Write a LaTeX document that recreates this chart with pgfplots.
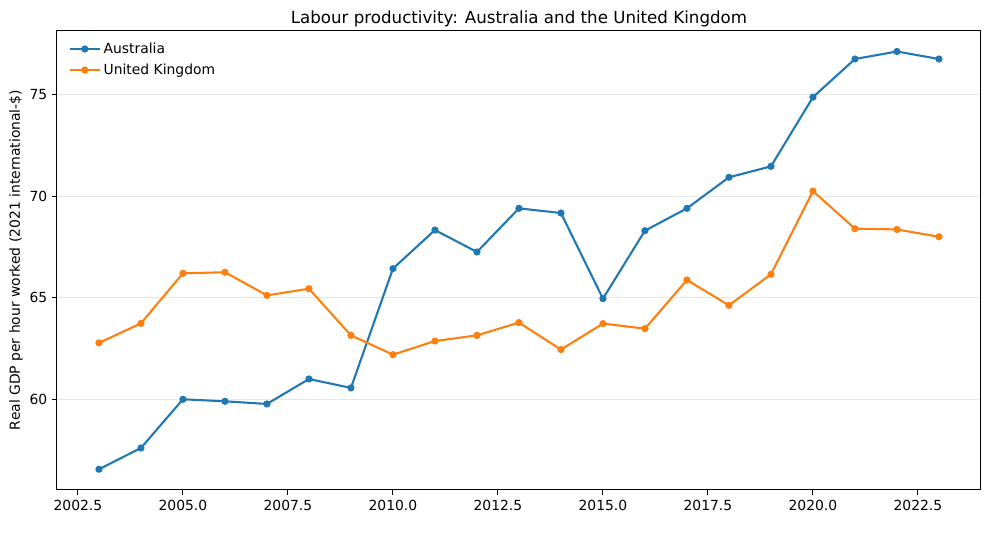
\documentclass[border=0pt]{standalone}
\usepackage{pgfplots}
\pgfplotsset{compat=1.18}
\usepackage{fontspec}
\setmainfont{DejaVu Sans}
\definecolor{tabblue}{HTML}{1F77B4}
\definecolor{taborange}{HTML}{FF7F0E}
\definecolor{gridgray}{HTML}{E6E6E6}
\begin{document}
\begin{tikzpicture}
\begin{axis}[
  name=ax,
  scale only axis,
  width=665.3pt, height=331.2pt,
  xmin=2002, xmax=2024,
  ymin=55.53, ymax=78.2,
  xtick={2002.5,2005,2007.5,2010,2012.5,2015,2017.5,2020,2022.5},
  ytick={60,65,70,75},
  xticklabel style={/pgf/number format/.cd,fixed,fixed zerofill,precision=1,1000 sep={}},
  yticklabel style={/pgf/number format/.cd,fixed,precision=0,1000 sep={}},
  /pgf/number format/assume math mode=true,
  tick align=outside,
  xtick pos=bottom, ytick pos=left,
  major tick length=3.5pt,
  tick style={black, line width=0.7pt},
  axis line style={line width=0.7pt},
  ymajorgrids,
  grid style={gridgray, line width=0.7pt},
  ticklabel style={font=\fontsize{10}{12}\selectfont},
  title={Labour productivity: Australia and the United Kingdom},
  title style={font=\fontsize{12}{14}\selectfont, yshift=-7.5pt},
  ylabel={Real GDP per hour worked (2021 international-\$)},
  ylabel style={font=\fontsize{10}{12}\selectfont, yshift=-2pt},
  legend style={at={(0.008,0.985)}, anchor=north west, draw=none, fill=none,
    font=\fontsize{10}{12}\selectfont, row sep=2pt},
  legend cell align=left,
  legend image code/.code={\draw[mark repeat=2,mark phase=2,#1] plot coordinates {(0pt,0pt) (10.8pt,0pt) (21.6pt,0pt)};},
]
\addplot[tabblue, line width=1.5pt, mark=*, mark size=1.8pt, mark options={solid}] coordinates {
(2003,56.55) (2004,57.60) (2005,60.00) (2006,59.90) (2007,59.77) (2008,61.00) (2009,60.56)
(2010,66.44) (2011,68.34) (2012,67.26) (2013,69.41) (2014,69.18) (2015,64.96) (2016,68.31)
(2017,69.41) (2018,70.94) (2019,71.48) (2020,74.89) (2021,76.77) (2022,77.14) (2023,76.77)
};
\addlegendentry{Australia}
\addplot[taborange, line width=1.5pt, mark=*, mark size=1.8pt, mark options={solid}] coordinates {
(2003,62.78) (2004,63.74) (2005,66.21) (2006,66.26) (2007,65.12) (2008,65.45) (2009,63.15)
(2010,62.20) (2011,62.87) (2012,63.15) (2013,63.78) (2014,62.45) (2015,63.73) (2016,63.48)
(2017,65.88) (2018,64.63) (2019,66.16) (2020,70.26) (2021,68.41) (2022,68.37) (2023,68.01)
};
\addlegendentry{United Kingdom}
\end{axis}
\pgfresetboundingbox
\path ([shift={(-41pt,-35.3pt)}]ax.south west) rectangle ([shift={(5.8pt,21.6pt)}]ax.north east);
\end{tikzpicture}
\end{document}
